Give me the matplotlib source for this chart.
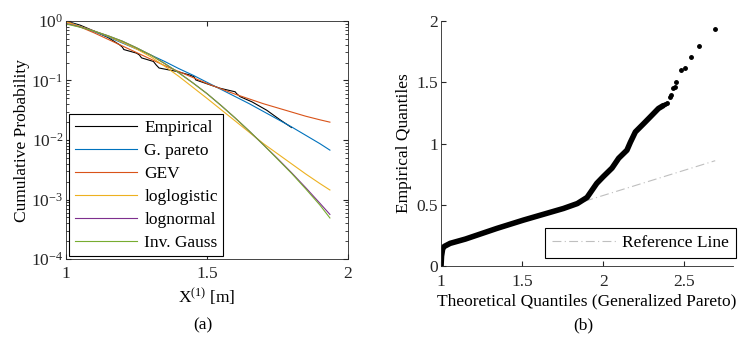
import numpy as np
import matplotlib
matplotlib.use('Agg')
import matplotlib.pyplot as plt

plt.rcParams['font.family'] = ['Liberation Serif', 'DejaVu Serif']
plt.rcParams['mathtext.fontset'] = 'custom'
plt.rcParams['mathtext.rm'] = 'Liberation Serif'
plt.rcParams['mathtext.it'] = 'Liberation Serif:italic'
plt.rcParams['font.size'] = 12.5

# (a) exceedance curves, log10 of probability
emp_x = [1.0, 1.05, 1.10, 1.15, 1.19, 1.20, 1.205, 1.25, 1.26, 1.268, 1.31, 1.32, 1.33,
         1.395, 1.44, 1.455, 1.46, 1.546, 1.60, 1.605, 1.617, 1.66, 1.712, 1.759, 1.80]
emp_logp = [0.0, -0.07, -0.17, -0.28, -0.40, -0.44, -0.48, -0.54, -0.57, -0.62, -0.68, -0.74, -0.79,
            -0.85, -0.91, -0.94, -0.99, -1.13, -1.19, -1.22, -1.27, -1.36, -1.50, -1.66, -1.79]

fit_x = [1.0, 1.05, 1.1, 1.15, 1.2, 1.25, 1.3, 1.35, 1.4, 1.45, 1.5, 1.55, 1.6, 1.65,
         1.7, 1.75, 1.8, 1.85, 1.9, 1.936]
gpareto_logp = [0.0, -0.09, -0.18, -0.27, -0.37, -0.47, -0.57, -0.68, -0.80, -0.91, -1.03, -1.15,
                -1.27, -1.39, -1.52, -1.65, -1.78, -1.92, -2.06, -2.17]
gev_logp = [0.0, -0.10, -0.20, -0.31, -0.42, -0.53, -0.64, -0.75, -0.85, -0.95, -1.05, -1.14,
            -1.23, -1.31, -1.39, -1.46, -1.53, -1.60, -1.66, -1.70]
loglogistic_logp = [-0.02, -0.09, -0.17, -0.26, -0.36, -0.47, -0.60, -0.76, -0.93, -1.115, -1.30,
                    -1.49, -1.68, -1.87, -2.06, -2.23, -2.40, -2.57, -2.73, -2.84]
lognormal_logp = [-0.04, -0.10, -0.17, -0.25, -0.34, -0.45, -0.57, -0.715, -0.87, -1.04, -1.22,
                  -1.42, -1.63, -1.85, -2.08, -2.31, -2.55, -2.80, -3.06, -3.25]
invgauss_logp = [-0.05, -0.105, -0.17, -0.25, -0.34, -0.45, -0.57, -0.715, -0.87, -1.04, -1.22,
                 -1.42, -1.63, -1.85, -2.08, -2.32, -2.56, -2.82, -3.09, -3.31]

# (b) QQ plot: dense body of the sample, then the sparse upper tail
qq_x = [1.0, 1.003, 1.01, 1.02, 1.056, 1.15, 1.344, 1.508, 1.755, 1.84, 1.90, 1.96, 2.0,
        2.054, 2.095, 2.146, 2.167, 2.198, 2.25, 2.29, 2.34, 2.37]
qq_y = [0.0, 0.08, 0.14, 0.16, 0.185, 0.22, 0.307, 0.375, 0.47, 0.51, 0.56, 0.675, 0.73,
        0.80, 0.88, 0.946, 1.01, 1.095, 1.164, 1.218, 1.286, 1.31]
tail_x = [2.38, 2.395, 2.41, 2.42, 2.43, 2.44, 2.45, 2.477, 2.503, 2.541, 2.588, 2.687]
tail_y = [1.32, 1.335, 1.38, 1.40, 1.45, 1.46, 1.50, 1.60, 1.62, 1.707, 1.797, 1.933]
ref_x = [1.0, 2.69]
ref_y = [0.165, 0.86]

AX_COLOR = '#262626'
COLORS = {
    'Empirical': 'k',
    'G. pareto': (0, 0.447, 0.741),
    'GEV': (0.85, 0.325, 0.098),
    'loglogistic': (0.929, 0.694, 0.125),
    'lognormal': (0.494, 0.184, 0.556),
    'Inv. Gauss': (0.466, 0.674, 0.188),
}


def style_axes(ax):
    for s in ax.spines.values():
        s.set_color(AX_COLOR)
        s.set_linewidth(0.6)
    ax.tick_params(which='both', direction='in', colors=AX_COLOR, labelcolor='#262626', pad=2)
    ax.tick_params(which='major', length=3.5)
    ax.tick_params(which='minor', length=2)


def panel_a(ax):
    ax.plot(emp_x, 10 ** np.array(emp_logp), color=COLORS['Empirical'], lw=0.8, label='Empirical')
    curves = [('G. pareto', gpareto_logp), ('GEV', gev_logp), ('loglogistic', loglogistic_logp),
              ('lognormal', lognormal_logp), ('Inv. Gauss', invgauss_logp)]
    for name, logp in curves:
        ax.plot(fit_x, 10 ** np.array(logp), color=COLORS[name], lw=0.8, label=name)
    ax.set_yscale('log')
    ax.set_xlim(1, 2)
    ax.set_ylim(1e-4, 1)
    ax.set_xticks([1, 1.5, 2])
    ax.set_xticklabels(['1', '1.5', '2'])
    ax.set_yticks([1e-4, 1e-3, 1e-2, 1e-1, 1])
    ax.set_yticklabels([r'$10^{-4}$', r'$10^{-3}$', r'$10^{-2}$', r'$10^{-1}$', r'$10^{0}$'])
    ax.tick_params(which='both', top=True, right=True)
    style_axes(ax)
    ax.tick_params(axis='x', pad=5)
    ax.set_xlabel(r'X$^{(1)}$ [m]', labelpad=3)
    ax.set_ylabel('Cumulative Probability', labelpad=1)
    leg = ax.legend(loc='lower left', bbox_to_anchor=(0.003, 0.0), handlelength=3.6,
                    handletextpad=0.4, labelspacing=0.4, borderpad=0.3, borderaxespad=0.15,
                    fancybox=False, framealpha=1, edgecolor='k')
    leg.get_frame().set_linewidth(0.8)


def panel_b(ax):
    ax.plot(ref_x, ref_y, color=(0.75, 0.75, 0.75), lw=0.8, ls='-.', dashes=(8, 3, 1, 3),
            label='Reference Line', zorder=1)
    ax.plot(qq_x, qq_y, color='k', lw=4.0, solid_capstyle='round', solid_joinstyle='round', zorder=2)
    ax.plot(tail_x, tail_y, 'k.', ms=5, zorder=2)
    ax.set_xlim(1, 2.8)
    ax.set_ylim(0, 2)
    ax.set_xticks([1, 1.5, 2, 2.5])
    ax.set_xticklabels(['1', '1.5', '2', '2.5'])
    ax.set_yticks([0, 0.5, 1, 1.5, 2])
    ax.set_yticklabels(['0', '0.5', '1', '1.5', '2'])
    ax.spines['top'].set_visible(False)
    ax.spines['right'].set_visible(False)
    style_axes(ax)
    ax.tick_params(axis='x', pad=6)
    ax.set_xlabel('Theoretical Quantiles (Generalized Pareto)', labelpad=2)
    ax.set_ylabel('Empirical Quantiles', labelpad=3)
    leg = ax.legend(loc='lower right', bbox_to_anchor=(1.01, 0.033), borderaxespad=0,
                    handlelength=3.8, handletextpad=0.25, borderpad=0.4,
                    fancybox=False, framealpha=1, edgecolor='k')
    leg.get_frame().set_linewidth(0.8)


def main():
    fig = plt.figure(figsize=(7.4, 3.44), dpi=100)
    ax1 = fig.add_axes([0.0892, 0.247, 0.381, 0.692])
    ax2 = fig.add_axes([0.596, 0.2267, 0.3946, 0.712])
    panel_a(ax1)
    panel_b(ax2)
    fig.text(0.274, 0.055, '(a)', ha='center', va='center', fontsize=12.5)
    fig.text(0.788, 0.055, '(b)', ha='center', va='center', fontsize=12.5)
    fig.savefig('out.png', dpi=100)


if __name__ == '__main__':
    main()
